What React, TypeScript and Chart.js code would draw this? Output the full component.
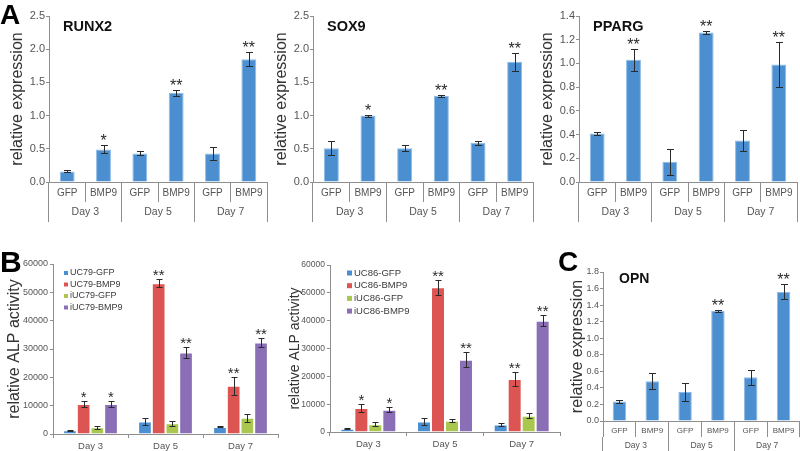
import React, { useEffect, useRef } from "react";
import { Chart, registerables } from "chart.js";
Chart.register(...registerables);

const FONT = '"Liberation Sans", Arial, Helvetica, sans-serif';
Chart.defaults.font.family = FONT;

// ---------- Panel A / C (two-level category axis) ----------
const geneCategories = ["GFP", "BMP9", "GFP", "BMP9", "GFP", "BMP9"];
const dayLabels = ["Day 3", "Day 5", "Day 7"];

const runx2Values = [0.16, 0.49, 0.43, 1.34, 0.43, 1.85];
const runx2Errors = [0.015, 0.06, 0.03, 0.05, 0.1, 0.11];
const runx2Stars = ["", "*", "", "**", "", "**"];

const sox9Values = [0.51, 1.0, 0.51, 1.3, 0.59, 1.81];
const sox9Errors = [0.11, 0.015, 0.045, 0.015, 0.03, 0.14];
const sox9Stars = ["", "*", "", "**", "", "**"];

const ppargValues = [0.41, 1.03, 0.17, 1.26, 0.35, 0.99];
const ppargErrors = [0.015, 0.095, 0.11, 0.01, 0.09, 0.19];
const ppargStars = ["", "**", "", "**", "", "**"];

const opnValues = [0.235, 0.48, 0.35, 1.33, 0.53, 1.56];
const opnErrors = [0.015, 0.095, 0.11, 0.01, 0.09, 0.09];
const opnStars = ["", "", "", "**", "", "**"];

// ---------- Panel B (ALP activity) ----------
const alpDays = ["Day 3", "Day 5", "Day 7"];

const uc79Labels = ["UC79-GFP", "UC79-BMP9", "iUC79-GFP", "iUC79-BMP9"];
const uc79Values = [
  [1300, 4400, 2500],
  [10600, 53200, 17000],
  [2400, 3800, 5700],
  [10600, 28800, 32300],
];
const uc79Errors = [
  [200, 1200, 200],
  [1200, 1400, 3200],
  [500, 800, 1400],
  [1200, 1900, 1700],
];
const uc79Stars = [
  ["", "", ""],
  ["*", "**", "**"],
  ["", "", ""],
  ["*", "**", "**"],
];

const uc86Labels = ["UC86-GFP", "UC86-BMP9", "iUC86-GFP", "iUC86-BMP9"];
const uc86Values = [
  [1200, 3800, 2700],
  [8600, 52000, 19000],
  [2800, 4000, 5800],
  [8000, 26000, 40000],
];
const uc86Errors = [
  [150, 1200, 600],
  [1300, 2600, 2500],
  [800, 500, 900],
  [900, 2800, 2000],
];
const uc86Stars = [
  ["", "", ""],
  ["*", "**", "**"],
  ["", "", ""],
  ["*", "**", "**"],
];

const BLUE = "#4b8fd0";
const BLUE_EDGE = "#8dbbe6";
const ALP_COLORS = ["#4a8fd2", "#dc5552", "#a9c64e", "#8b6fb6"];
const AXIS = "#8e8e8e";
const TICK = "#555555";
const TITLE = "#333333";
const ERR = "#2a2a2a";

// ---------- plugins ----------
const errorBarPlugin = {
  id: "errorBars",
  afterDatasetsDraw(chart: any) {
    const o = chart.options.plugins.errorBars || {};
    const ctx = chart.ctx;
    const y = chart.scales.y;
    chart.data.datasets.forEach((ds: any, di: number) => {
      const errs = ds.errors;
      if (!errs) return;
      const meta = chart.getDatasetMeta(di);
      ctx.save();
      ctx.strokeStyle = ERR;
      ctx.lineWidth = 1;
      meta.data.forEach((bar: any, i: number) => {
        const v = ds.data[i];
        const e = errs[i];
        const x = Math.round(bar.x) + 0.5;
        const yt = Math.round(y.getPixelForValue(v + e)) + 0.5;
        const yb = Math.round(y.getPixelForValue(v - e)) + 0.5;
        const c = o.cap ?? 3;
        ctx.beginPath();
        ctx.moveTo(x, yt);
        ctx.lineTo(x, yb);
        ctx.moveTo(x - c, yt);
        ctx.lineTo(x + c, yt);
        ctx.moveTo(x - c, yb);
        ctx.lineTo(x + c, yb);
        ctx.stroke();
        const s = ds.stars ? ds.stars[i] : "";
        if (s) {
          ctx.fillStyle = ERR;
          ctx.font = `${o.starSize ?? 16}px ${FONT}`;
          ctx.textAlign = "center";
          ctx.textBaseline = "alphabetic";
          ctx.fillText(s, bar.x, yt + (o.starDy ?? 0));
        }
      });
      ctx.restore();
    });
  },
};

const panelTitlePlugin = {
  id: "panelTitle",
  afterDraw(chart: any) {
    const o = chart.options.plugins.panelTitle;
    if (!o) return;
    const ctx = chart.ctx;
    ctx.save();
    ctx.font = `bold ${o.size}px ${FONT}`;
    ctx.fillStyle = "#111111";
    ctx.textAlign = "left";
    ctx.textBaseline = "alphabetic";
    ctx.fillText(o.text, chart.chartArea.left + o.dx, o.y);
    ctx.restore();
  },
};

const boxLegendPlugin = {
  id: "boxLegend",
  afterDraw(chart: any) {
    const o = chart.options.plugins.boxLegend;
    if (!o) return;
    const ctx = chart.ctx;
    const { left, top } = chart.chartArea;
    ctx.save();
    ctx.font = `${o.size}px ${FONT}`;
    ctx.textAlign = "left";
    ctx.textBaseline = "middle";
    chart.data.datasets.forEach((ds: any, i: number) => {
      const cy = top + o.dy + i * o.gap;
      ctx.fillStyle = ds.backgroundColor;
      ctx.fillRect(left + o.dx, cy - o.box / 2, o.box, o.box);
      ctx.fillStyle = "#3a3a3a";
      ctx.fillText(ds.label, left + o.dx + o.box + 2, cy);
    });
    ctx.restore();
  },
};

// ---------- config builders ----------
type ExprParams = {
  values: number[];
  errors: number[];
  stars: string[];
  title: string;
  yMax: number;
  yStep: number;
  padTop: number;
  padRight: number;
  yWidth: number;
  tickFont: number;
  yTitleFont: number;
  yTitlePad: number;
  row1H: number;
  row2H: number;
  row1Font: number;
  row2Font: number;
  row1Pad: number;
  row2Pad: number;
  titleDx: number;
  titleY: number;
  titleSize: number;
  barPct: number;
};

function exprConfig(p: ExprParams): any {
  return {
    type: "bar",
    data: {
      labels: geneCategories,
      datasets: [
        {
          data: p.values,
          errors: p.errors,
          stars: p.stars,
          backgroundColor: BLUE,
          borderColor: BLUE_EDGE,
          borderWidth: 1,
          barPercentage: p.barPct,
          categoryPercentage: 1,
        },
      ],
    },
    options: {
      responsive: false,
      animation: false,
      layout: { padding: { top: p.padTop, right: p.padRight, left: 0, bottom: 0 } },
      plugins: {
        legend: { display: false },
        tooltip: { enabled: false },
        errorBars: { cap: 3.5, starSize: 16, starDy: 0 },
        panelTitle: { text: p.title, dx: p.titleDx, y: p.titleY, size: p.titleSize },
      },
      scales: {
        x: {
          type: "category",
          offset: true,
          weight: 0,
          grid: { offset: true, drawOnChartArea: false, tickLength: p.row1H, color: AXIS },
          border: { display: true, color: AXIS },
          ticks: { font: { size: p.row1Font }, color: TICK, padding: p.row1Pad, autoSkip: false, maxRotation: 0 },
          afterFit: (s: any) => {
            s.height = p.row1H;
          },
        },
        x2: {
          type: "category",
          position: "bottom",
          labels: dayLabels,
          offset: true,
          weight: 1,
          grid: { offset: true, drawOnChartArea: false, tickLength: p.row2H, color: AXIS },
          border: { display: false },
          ticks: { font: { size: p.row2Font }, color: TICK, padding: p.row2Pad, autoSkip: false, maxRotation: 0 },
          afterFit: (s: any) => {
            s.height = p.row2H;
          },
        },
        y: {
          min: 0,
          max: p.yMax,
          ticks: {
            stepSize: p.yStep,
            font: { size: p.tickFont },
            color: TICK,
            padding: 1,
            callback: (v: any) => Number(v).toFixed(1),
          },
          grid: { drawOnChartArea: false, tickLength: 3, color: AXIS },
          border: { color: AXIS },
          title: {
            display: true,
            text: "relative expression",
            font: { size: p.yTitleFont },
            color: TITLE,
            padding: { top: p.yTitlePad, bottom: 0 },
          },
          afterFit: (s: any) => {
            s.width = p.yWidth;
          },
        },
      },
    },
    plugins: [errorBarPlugin, panelTitlePlugin],
  };
}

type AlpParams = {
  labels: string[];
  values: number[][];
  errors: number[][];
  stars: string[][];
  padTop: number;
  padRight: number;
  yWidth: number;
  xH: number;
  tickFont: number;
  yTitleFont: number;
  yTitlePad: number;
  legend: { dx: number; dy: number; gap: number; box: number; size: number };
};

function alpConfig(p: AlpParams): any {
  return {
    type: "bar",
    data: {
      labels: alpDays,
      datasets: p.labels.map((lab, i) => ({
        label: lab,
        data: p.values[i],
        errors: p.errors[i],
        stars: p.stars[i],
        backgroundColor: ALP_COLORS[i],
        borderColor: "rgba(255,255,255,0.35)",
        borderWidth: 1,
        barPercentage: 1,
        categoryPercentage: 0.73,
      })),
    },
    options: {
      responsive: false,
      animation: false,
      layout: { padding: { top: p.padTop, right: p.padRight, left: 0, bottom: 0 } },
      plugins: {
        legend: { display: false },
        tooltip: { enabled: false },
        errorBars: { cap: 3, starSize: 15, starDy: 0 },
        boxLegend: p.legend,
      },
      scales: {
        x: {
          type: "category",
          offset: true,
          grid: { offset: true, drawOnChartArea: false, tickLength: 4, color: AXIS },
          border: { display: true, color: AXIS },
          ticks: { font: { size: 9.5 }, color: TICK, padding: 3, autoSkip: false, maxRotation: 0 },
          afterFit: (s: any) => {
            s.height = p.xH;
          },
        },
        y: {
          min: 0,
          max: 60000,
          ticks: {
            stepSize: 10000,
            font: { size: p.tickFont },
            color: TICK,
            padding: 2,
            callback: (v: any) => String(v),
          },
          grid: { drawOnChartArea: false, tickLength: 3, color: AXIS },
          border: { color: AXIS },
          title: {
            display: true,
            text: "relative ALP activity",
            font: { size: p.yTitleFont },
            color: TITLE,
            padding: { top: p.yTitlePad, bottom: 0 },
          },
          afterFit: (s: any) => {
            s.width = p.yWidth;
          },
        },
      },
    },
    plugins: [errorBarPlugin, boxLegendPlugin],
  };
}

const baseA = {
  yMax: 2.5,
  yStep: 0.5,
  padTop: 16,
  yWidth: 49,
  tickFont: 11,
  yTitleFont: 16,
  yTitlePad: 8,
  row1H: 20,
  row2H: 20,
  row1Font: 10,
  row2Font: 10.5,
  row1Pad: -15,
  row2Pad: -16,
  titleDx: 14,
  titleY: 30.5,
  titleSize: 14.5,
  barPct: 0.41,
};

function ChartCanvas(props: { make: () => any; left: number; top: number; width: number; height: number }) {
  const ref = useRef<HTMLCanvasElement>(null);
  useEffect(() => {
    const chart = new Chart(ref.current as HTMLCanvasElement, props.make());
    return () => chart.destroy();
  }, []);
  return (
    <canvas
      ref={ref}
      width={props.width}
      height={props.height}
      style={{ position: "absolute", left: props.left, top: props.top, width: props.width, height: props.height }}
    />
  );
}

const letterStyle = (left: number, top: number, size: number): React.CSSProperties => ({
  position: "absolute",
  left,
  top,
  fontFamily: FONT,
  fontWeight: "bold",
  fontSize: size,
  lineHeight: `${size}px`,
  color: "#000",
});

export default function App() {
  return (
    <div
      style={{
        position: "absolute",
        left: 0,
        top: 0,
        width: 800,
        height: 451,
        overflow: "hidden",
        background: "#fff",
      }}
    >
      <ChartCanvas
        left={0}
        top={0}
        width={270}
        height={222}
        make={() =>
          exprConfig({ ...baseA, values: runx2Values, errors: runx2Errors, stars: runx2Stars, title: "RUNX2", padRight: 3 })
        }
      />
      <ChartCanvas
        left={264}
        top={0}
        width={272}
        height={222}
        make={() =>
          exprConfig({ ...baseA, values: sox9Values, errors: sox9Errors, stars: sox9Stars, title: "SOX9", padRight: 3 })
        }
      />
      <ChartCanvas
        left={530}
        top={0}
        width={270}
        height={222}
        make={() =>
          exprConfig({
            ...baseA,
            yMax: 1.4,
            yStep: 0.2,
            values: ppargValues,
            errors: ppargErrors,
            stars: ppargStars,
            title: "PPARG",
            padRight: 3,
          })
        }
      />
      <ChartCanvas
        left={0}
        top={230}
        width={282}
        height={221}
        make={() =>
          alpConfig({
            labels: uc79Labels,
            values: uc79Values,
            errors: uc79Errors,
            stars: uc79Stars,
            padTop: 34,
            padRight: 4,
            yWidth: 53,
            xH: 17,
            tickFont: 9,
            yTitleFont: 16,
            yTitlePad: 5,
            legend: { dx: 11, dy: 9, gap: 11.5, box: 4, size: 9 },
          })
        }
      />
      <ChartCanvas
        left={277}
        top={230}
        width={285}
        height={221}
        make={() =>
          alpConfig({
            labels: uc86Labels,
            values: uc86Values,
            errors: uc86Errors,
            stars: uc86Stars,
            padTop: 35,
            padRight: 2,
            yWidth: 53,
            xH: 19,
            tickFont: 8.5,
            yTitleFont: 14,
            yTitlePad: 10,
            legend: { dx: 17, dy: 8, gap: 12.7, box: 5, size: 9.5 },
          })
        }
      />
      <ChartCanvas
        left={563}
        top={240}
        width={237}
        height={213}
        make={() =>
          exprConfig({
            ...baseA,
            yMax: 1.8,
            yStep: 0.2,
            padTop: 32,
            padRight: 0,
            yWidth: 40,
            tickFont: 9,
            yTitleFont: 16,
            yTitlePad: 5,
            row1H: 16,
            row2H: 16,
            row1Font: 8,
            row2Font: 8.5,
            row1Pad: -11,
            row2Pad: -12,
            titleDx: 16,
            titleY: 283 - 240,
            titleSize: 14,
            values: opnValues,
            errors: opnErrors,
            stars: opnStars,
            title: "OPN",
          })
        }
      />
      <div style={letterStyle(0, 1, 28)}>A</div>
      <div style={letterStyle(0, 247, 30)}>B</div>
      <div style={letterStyle(558, 248, 28)}>C</div>
    </div>
  );
}
